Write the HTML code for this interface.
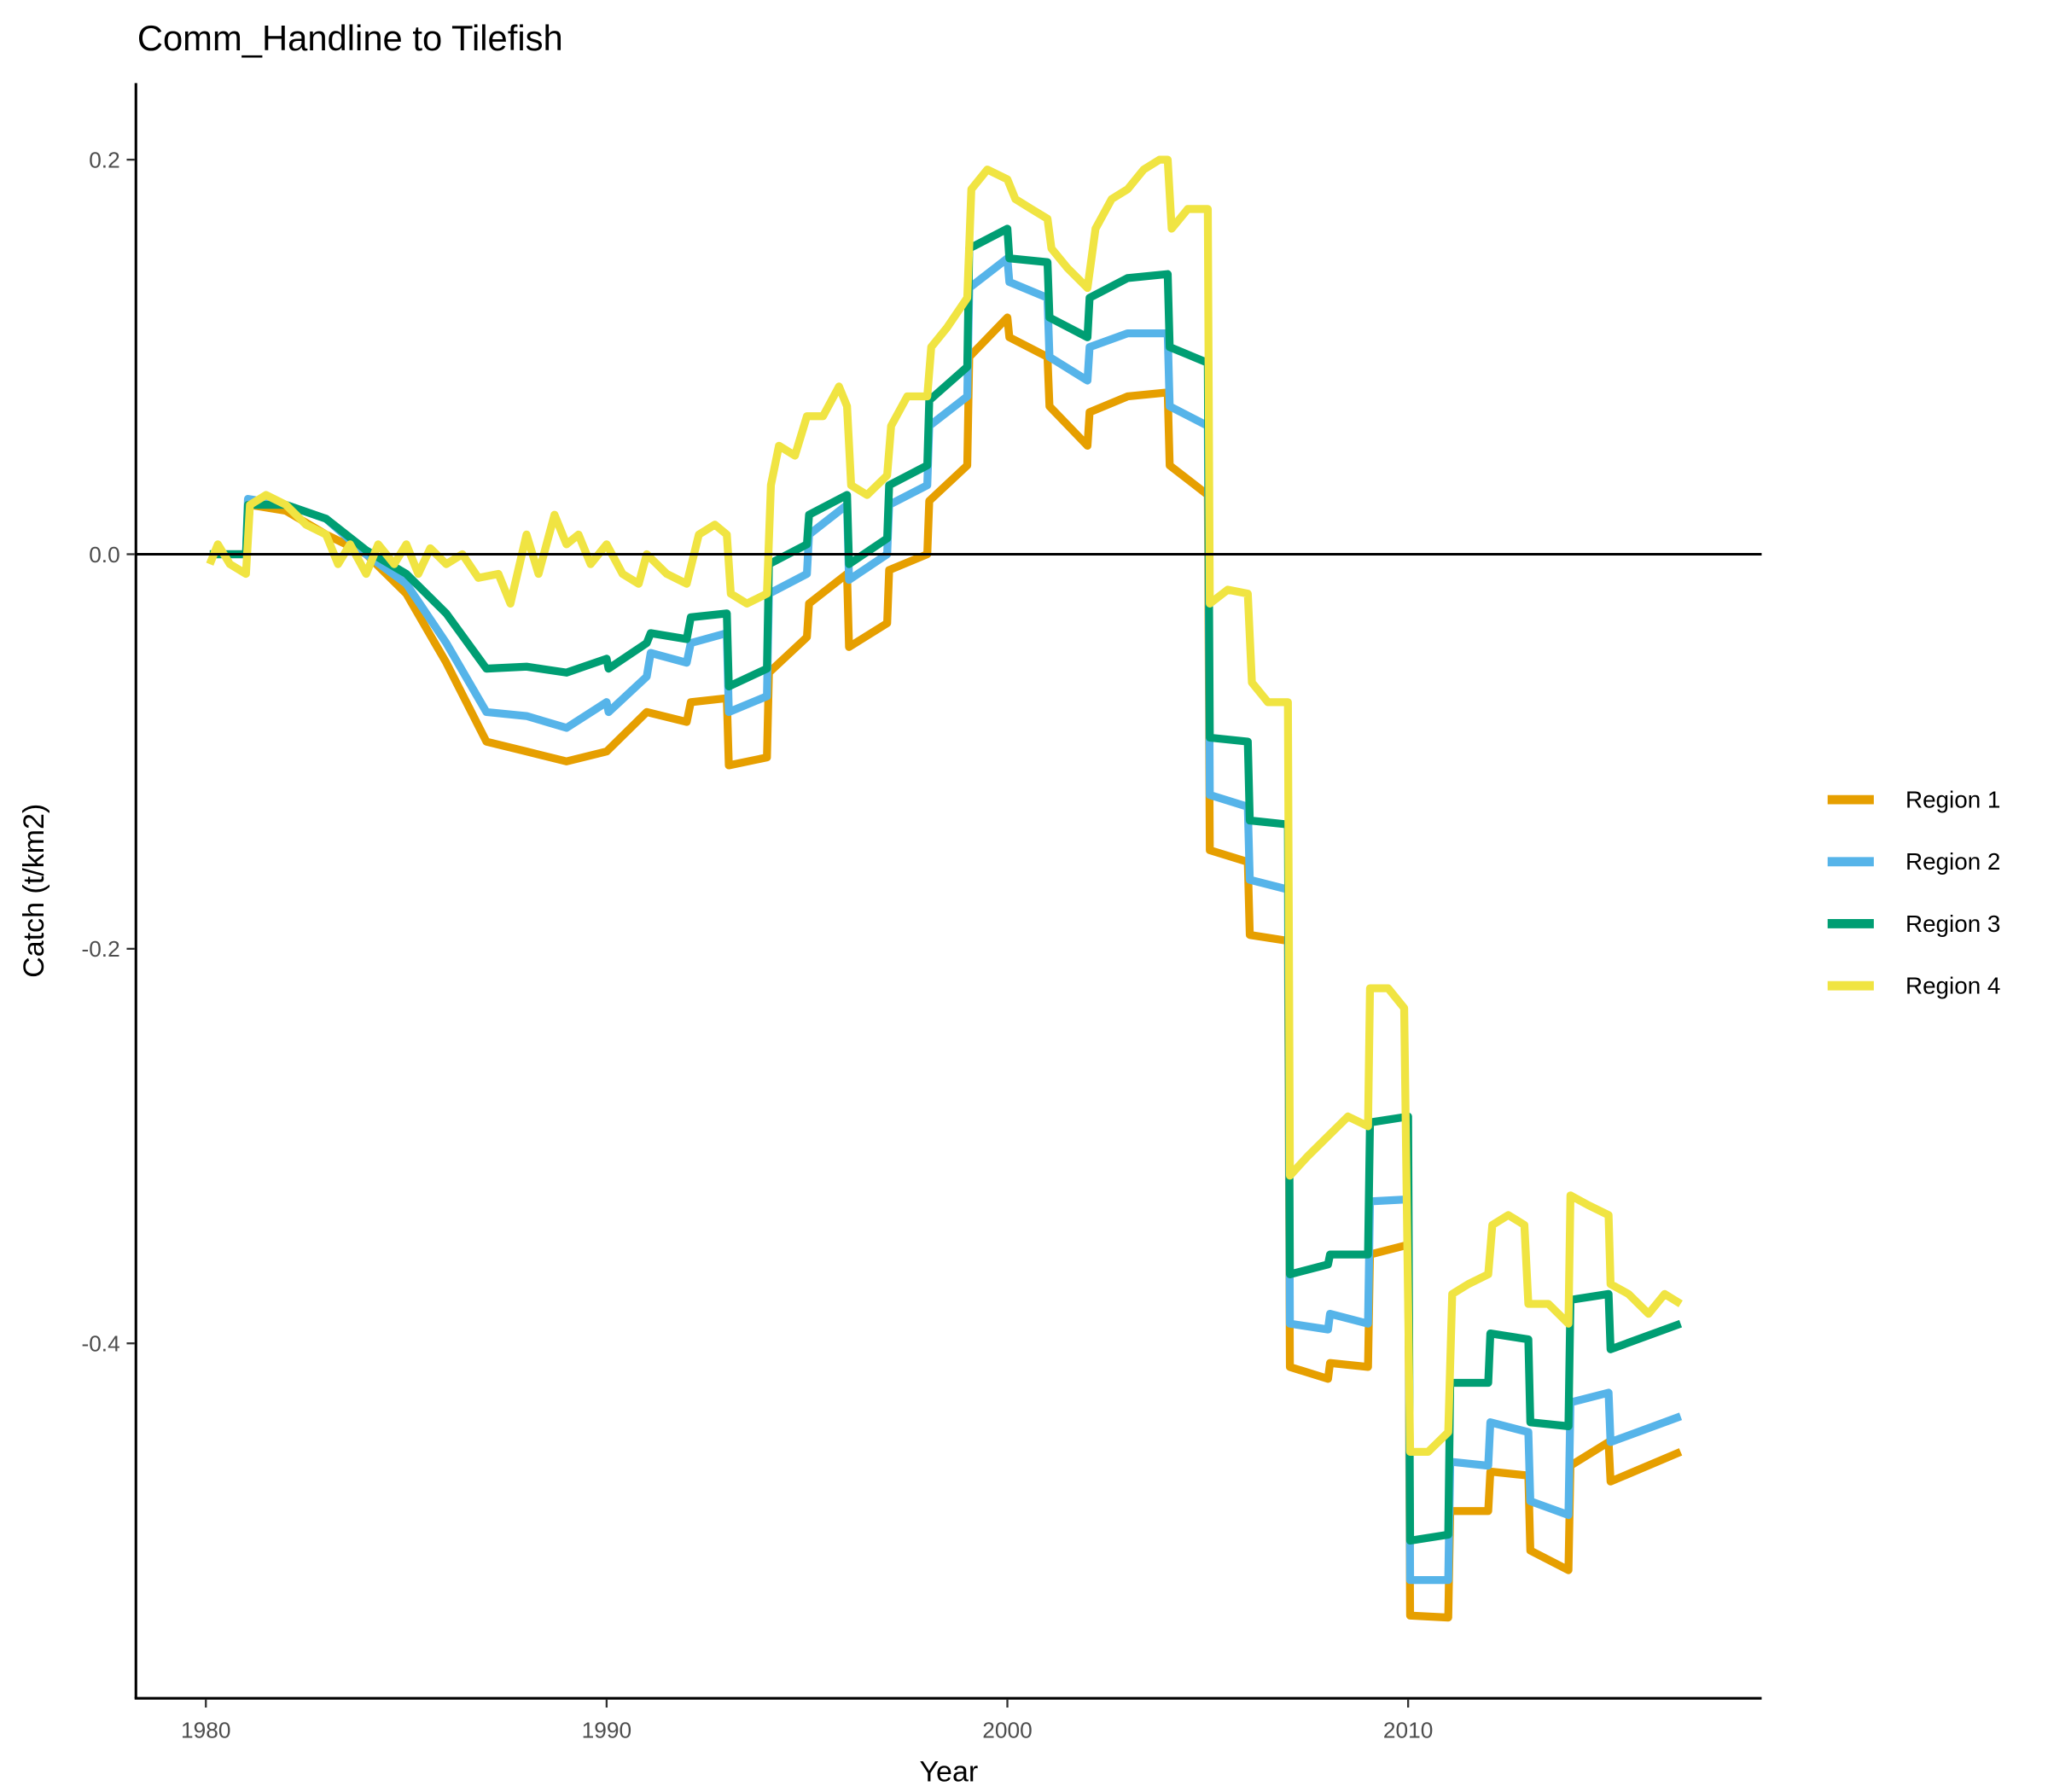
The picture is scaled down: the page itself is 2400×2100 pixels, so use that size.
<!DOCTYPE html>
<html><head><meta charset="utf-8"><style>html,body{margin:0;padding:0;background:#fff}svg{display:block}</style></head>
<body>
<svg id="chart" width="2400" height="2100" viewBox="0 0 1552 1358" xmlns="http://www.w3.org/2000/svg" font-family="Liberation Sans, Arial, sans-serif">
<rect width="1552" height="1358" fill="#fff"/>
<text x="104" y="38" font-size="27" fill="#000">Comm_Handline to Tilefish</text>
<g id="plot"></g>
<line x1="103" x2="1335" y1="420" y2="420" stroke="#000" stroke-width="2"/>
<line x1="103" x2="103" y1="63" y2="1287" stroke="#000" stroke-width="2"/>
<line x1="102" x2="1335" y1="1287" y2="1287" stroke="#000" stroke-width="2"/>
<g id="axes"></g>
<text x="719" y="1350" font-size="22" text-anchor="middle" fill="#000">Year</text>
<text transform="translate(33,675) rotate(-90)" font-size="22" text-anchor="middle" fill="#000">Catch (t/km2)</text>
<g id="legend"></g>
</svg>
<script>
const xTicks=[1980,1990,2000,2010];
const yTicks=[0.2,0.0,-0.2,-0.4];
const yTickLabels=["0.2","0.0","-0.2","-0.4"];
const seriesNames=["Region 1","Region 2","Region 3","Region 4"];
const seriesColors=["#E69F00","#56B4E9","#009E73","#F0E442"];
const r1Years=[1980.1,1981,1981.1,1982,1983,1984,1985,1986,1987,1988,1989,1990,1991,1992,1992.1,1993,1993.05,1994,1994.05,1995,1995.05,1996,1996.05,1997,1997.05,1998,1998.05,1999,1999.05,2000,2000.05,2001,2001.05,2002,2002.05,2003,2004,2004.05,2005,2005.05,2006,2006.05,2007,2007.05,2008,2008.05,2009,2009.05,2010,2010.05,2011,2011.05,2012,2012.05,2013,2013.05,2014,2014.05,2015,2015.05,2016.8];
const r1Values=[0,0,0.025,0.022,0.01,0,-0.02,-0.055,-0.095,-0.1,-0.105,-0.1,-0.08,-0.085,-0.075,-0.073,-0.107,-0.103,-0.06,-0.042,-0.025,-0.01,-0.047,-0.035,-0.008,0,0.027,0.045,0.1,0.12,0.11,0.1,0.075,0.055,0.072,0.08,0.082,0.045,0.03,-0.15,-0.156,-0.193,-0.196,-0.412,-0.418,-0.41,-0.412,-0.355,-0.35,-0.538,-0.539,-0.485,-0.485,-0.465,-0.467,-0.505,-0.515,-0.462,-0.45,-0.47,-0.455];
const r2Years=[1980.1,1981,1981.05,1982,1983,1984,1985,1986,1987,1988,1989,1990,1990.05,1991,1991.1,1992,1992.1,1993,1993.05,1994,1994.05,1995,1995.05,1996,1996.05,1997,1997.05,1998,1998.05,1999,1999.05,2000,2000.05,2001,2001.05,2002,2002.05,2003,2004,2004.05,2005,2005.05,2006,2006.05,2007,2007.05,2008,2008.05,2009,2009.05,2010,2010.05,2011,2011.05,2012,2012.05,2013,2013.05,2014,2014.05,2015,2015.05,2016.8];
const r2Values=[0,0,0.028,0.025,0.018,0,-0.015,-0.045,-0.08,-0.082,-0.088,-0.075,-0.08,-0.062,-0.05,-0.055,-0.045,-0.04,-0.08,-0.072,-0.02,-0.01,0.01,0.025,-0.013,0,0.025,0.035,0.065,0.08,0.135,0.15,0.138,0.13,0.1,0.088,0.105,0.112,0.112,0.075,0.065,-0.122,-0.128,-0.165,-0.17,-0.39,-0.393,-0.385,-0.39,-0.328,-0.327,-0.52,-0.52,-0.46,-0.462,-0.44,-0.445,-0.48,-0.487,-0.43,-0.425,-0.45,-0.437];
const r3Years=r2Years;
const r3Values=[0,0,0.025,0.025,0.018,0.002,-0.01,-0.03,-0.058,-0.057,-0.06,-0.053,-0.058,-0.045,-0.04,-0.043,-0.032,-0.03,-0.067,-0.058,-0.005,0.005,0.02,0.03,-0.005,0.008,0.035,0.045,0.078,0.095,0.155,0.165,0.15,0.148,0.12,0.11,0.13,0.14,0.142,0.105,0.097,-0.093,-0.095,-0.135,-0.137,-0.365,-0.36,-0.355,-0.355,-0.288,-0.285,-0.5,-0.497,-0.42,-0.42,-0.395,-0.398,-0.44,-0.442,-0.378,-0.375,-0.403,-0.39];
const r4Years=[1980.1,1980.3,1980.6,1981,1981.1,1981.5,1982,1982.5,1983,1983.3,1983.6,1984,1984.3,1984.7,1985,1985.3,1985.6,1986,1986.4,1986.8,1987.3,1987.6,1988,1988.3,1988.7,1989,1989.3,1989.6,1990,1990.4,1990.8,1991,1991.5,1992,1992.3,1992.7,1993,1993.1,1993.5,1994,1994.1,1994.3,1994.7,1995,1995.4,1995.8,1996,1996.1,1996.5,1997,1997.1,1997.5,1998,1998.1,1998.5,1999,1999.1,1999.5,2000,2000.2,2000.6,2001,2001.1,2001.5,2002,2002.2,2002.6,2003,2003.4,2003.8,2004,2004.1,2004.5,2005,2005.05,2005.5,2006,2006.1,2006.5,2007,2007.05,2007.5,2008,2008.5,2009,2009.05,2009.5,2009.9,2010.05,2010.5,2011,2011.1,2011.5,2012,2012.1,2012.5,2012.9,2013,2013.5,2014,2014.05,2014.5,2015,2015.05,2015.5,2016,2016.4,2016.8];
const r4Values=[-0.005,0.005,-0.005,-0.01,0.025,0.03,0.025,0.015,0.01,-0.005,0.005,-0.01,0.005,-0.005,0.005,-0.01,0.003,-0.005,0,-0.012,-0.01,-0.025,0.01,-0.01,0.02,0.005,0.01,-0.005,0.005,-0.01,-0.015,0,-0.01,-0.015,0.01,0.015,0.01,-0.02,-0.025,-0.02,0.035,0.055,0.05,0.07,0.07,0.085,0.075,0.035,0.03,0.04,0.065,0.08,0.08,0.105,0.115,0.13,0.185,0.195,0.19,0.18,0.175,0.17,0.155,0.145,0.135,0.165,0.18,0.185,0.195,0.2,0.2,0.165,0.175,0.175,-0.025,-0.018,-0.02,-0.065,-0.075,-0.075,-0.315,-0.305,-0.295,-0.285,-0.29,-0.22,-0.22,-0.23,-0.455,-0.455,-0.445,-0.375,-0.37,-0.365,-0.34,-0.335,-0.34,-0.38,-0.38,-0.39,-0.325,-0.33,-0.335,-0.37,-0.375,-0.385,-0.375,-0.38];

const NS="http://www.w3.org/2000/svg";
function xScale(y){return 156+(y-1980)*30.37;}
function yScale(v){return 420-v*1495;}
const plot=document.getElementById('plot');
const allYears=[r1Years,r2Years,r3Years,r4Years];
const allValues=[r1Values,r2Values,r3Values,r4Values];
for(let s=0;s<4;s++){
  const p=document.createElementNS(NS,'path');
  let d='';
  for(let i=0;i<allYears[s].length;i++){d+=(i?'L':'M')+xScale(allYears[s][i]).toFixed(1)+','+yScale(allValues[s][i]).toFixed(1);}
  p.setAttribute('d',d);p.setAttribute('fill','none');p.setAttribute('stroke',seriesColors[s]);
  p.setAttribute('stroke-width','6');p.setAttribute('stroke-linejoin','round');
  
  
  plot.appendChild(p);
}
const axes=document.getElementById('axes');
xTicks.forEach(t=>{
  const l=document.createElementNS(NS,'line');
  l.setAttribute('x1',xScale(t));l.setAttribute('x2',xScale(t));l.setAttribute('y1',1288);l.setAttribute('y2',1294);
  l.setAttribute('stroke','#333');l.setAttribute('stroke-width','1.5');
  
  
  axes.appendChild(l);
  const tx=document.createElementNS(NS,'text');
  tx.setAttribute('x',xScale(t));tx.setAttribute('y',1317);tx.setAttribute('text-anchor','middle');
  tx.setAttribute('font-size','17');tx.setAttribute('fill','#4d4d4d');tx.textContent=t;
  
  
  axes.appendChild(tx);
});
yTicks.forEach((t,i)=>{
  const l=document.createElementNS(NS,'line');
  l.setAttribute('x1',96);l.setAttribute('x2',102);l.setAttribute('y1',yScale(t));l.setAttribute('y2',yScale(t));
  l.setAttribute('stroke','#333');l.setAttribute('stroke-width','1.5');
  
  
  axes.appendChild(l);
  const tx=document.createElementNS(NS,'text');
  tx.setAttribute('x',91);tx.setAttribute('y',yScale(t)+6);tx.setAttribute('text-anchor','end');
  tx.setAttribute('font-size','17');tx.setAttribute('fill','#4d4d4d');tx.textContent=yTickLabels[i];
  
  
  axes.appendChild(tx);
});
const legend=document.getElementById('legend');
seriesNames.forEach((n,i)=>{
  const y=606+i*47;
  const l=document.createElementNS(NS,'line');
  l.setAttribute('x1',1385);l.setAttribute('x2',1420);l.setAttribute('y1',y);l.setAttribute('y2',y);
  l.setAttribute('stroke',seriesColors[i]);l.setAttribute('stroke-width','7');
  
  
  legend.appendChild(l);
  const tx=document.createElementNS(NS,'text');
  tx.setAttribute('x',1444);tx.setAttribute('y',y+6);tx.setAttribute('font-size','18');tx.setAttribute('fill','#000');
  tx.textContent=n;
  
  
  legend.appendChild(tx);
});
</script>
</body></html>
